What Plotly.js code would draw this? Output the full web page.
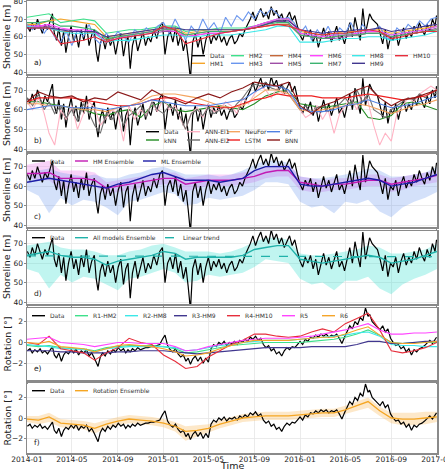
<!DOCTYPE html>
<html>
<head>
<meta charset="utf-8">
<script src="https://cdn.plot.ly/plotly-3.0.1.min.js"></script>
<style>
html,body{margin:0;padding:0;background:#fff;}
#chart{width:445px;height:471px;}
</style>
</head>
<body>
<div id="chart"></div>
<script>
// ---- observed record: shoreline position [m] and beach rotation [deg] ----
const dataDates = [
 '2014-01-02','2014-01-09','2014-01-15','2014-01-22','2014-01-29',
 '2014-02-05','2014-02-11','2014-02-18','2014-02-25',
 '2014-03-04','2014-03-10','2014-03-15','2014-03-21','2014-03-27',
 '2014-04-03','2014-04-09','2014-04-15','2014-04-22','2014-04-29',
 '2014-05-06','2014-05-12','2014-05-19','2014-05-26',
 '2014-06-02','2014-06-09','2014-06-16','2014-06-23','2014-06-30',
 '2014-07-05','2014-07-10','2014-07-16','2014-07-22','2014-07-29',
 '2014-08-05','2014-08-12','2014-08-19','2014-08-26',
 '2014-09-02','2014-09-09','2014-09-16','2014-09-22','2014-09-28',
 '2014-10-04','2014-10-10','2014-10-17','2014-10-24','2014-10-31',
 '2014-11-07','2014-11-14','2014-11-21','2014-11-28',
 '2014-12-06','2014-12-14','2014-12-22','2014-12-29',
 '2015-01-05','2015-01-12','2015-01-19','2015-01-26',
 '2015-02-02','2015-02-09','2015-02-16','2015-02-23',
 '2015-03-02','2015-03-08','2015-03-14','2015-03-20','2015-03-27',
 '2015-04-03','2015-04-10','2015-04-17','2015-04-24',
 '2015-05-01','2015-05-08','2015-05-15','2015-05-22','2015-05-29',
 '2015-06-05','2015-06-12','2015-06-19','2015-06-26',
 '2015-07-03','2015-07-10','2015-07-17','2015-07-24','2015-07-31',
 '2015-08-07','2015-08-14','2015-08-21','2015-08-28',
 '2015-09-04','2015-09-11','2015-09-18','2015-09-25',
 '2015-10-02','2015-10-09','2015-10-16','2015-10-23','2015-10-30',
 '2015-11-06','2015-11-13','2015-11-20','2015-11-27',
 '2015-12-04','2015-12-11','2015-12-18','2015-12-25',
 '2016-01-01','2016-01-08','2016-01-15','2016-01-22','2016-01-29',
 '2016-02-05','2016-02-12','2016-02-19','2016-02-26',
 '2016-03-04','2016-03-11','2016-03-18','2016-03-25',
 '2016-04-01','2016-04-08','2016-04-15','2016-04-22','2016-04-29',
 '2016-05-06','2016-05-13','2016-05-20','2016-05-27',
 '2016-06-03','2016-06-10','2016-06-17','2016-06-24',
 '2016-07-01','2016-07-05','2016-07-12','2016-07-26',
 '2016-08-02','2016-08-09','2016-08-16','2016-08-23','2016-08-30',
 '2016-09-06','2016-09-13','2016-09-20','2016-09-27',
 '2016-10-04','2016-10-11','2016-10-18','2016-10-25',
 '2016-11-01','2016-11-08','2016-11-15','2016-11-22','2016-11-29',
 '2016-12-06','2016-12-13','2016-12-20','2016-12-27','2016-12-31'
];
const shorelineData = [
 66,63,68,64,70, 65,62,67,64, 69,73,62,58,65, 55,63,51,60,66, 57,62,54,64,
 58,67,55,61,64, 52,46,56,60,53, 61,55,59,50, 58,62,49,57,60, 42,55,61,52,58,
 63,55,60,57, 64,59,66,68,
 50,60,63,57, 65,55,61,52, 58,48,36,57,62, 54,60,50,58, 63,56,61,58,62,
 57,60,55,59, 61,56,58,62,60, 64,67,70,74, 69,73,76,71, 74,70,77,72,75,
 70,73,68,71, 74,69,72,66,
 61,58,63,60,64, 57,62,54,60, 65,59,63,57, 62,66,58,61,56, 63,68,60,71,
 64,58,76,62, 69,73,70,67, 62,56,64,53,60, 58,63,55,61, 65,59,63,60,
 66,62,68,64,61, 67,63,70,66,72
];
const rotationData = [
 -0.8,-0.6,-1.0,-0.7,-0.9, -0.6,-1.0,-0.8,-1.1, -0.7,-0.4,-1.2,-1.5,-1.0,
 -1.8,-1.2,-0.9,-1.1,-0.7, -1.0,-0.6,-1.2,-0.8, -1.0,-0.7,-1.3,-1.0,-1.5,
 -1.9,-2.3,-1.4,-1.0,-1.3, -0.8,-1.1,-0.7,-0.9, -0.5,-0.8,-0.6,-1.0,-0.7,
 -0.9,-0.6,-0.8,-0.5,-0.7, -0.6,-0.5,-0.5,-0.4, -0.4,-0.3,-0.2,0.3,
 0.7,-0.3,-0.7,-0.9, -0.6,-1.1,-1.4,-1.2, -1.8,-1.5,-2.1,-1.6,-1.3,
 -1.8,-1.4,-2.0,-1.5, -1.9,-0.6,-0.2,-0.4,0.0, -0.2,0.1,-0.3,0.0,
 -0.1,0.1,-0.2,0.2,0.0, 0.3,0.1,0.5,0.3, 0.6,0.2,0.4,-0.2,
 -0.5,-0.3,-0.8,-0.6,-1.1, -0.9,-1.3,-0.8,-0.5, -0.7,-0.4,-0.5,-0.2,
 0.1,-0.2,0.3,0.1,0.5, 0.4,0.7,0.5,0.8, 0.6,0.8,0.5,0.7, 0.6,0.8,0.4,-0.1,0.5,
 1.0,1.6,1.3,2.0, 1.7,2.4,2.1,3.3, 2.5,2.7,2.0,1.5, 1.2,1.6,1.0,1.3,0.4,
 0.0,-0.3,-0.2,-0.6, -0.4,-0.9,-0.6,-1.2, -0.7,-0.9,-0.6,-0.5,-0.3,
 0.0,0.2,-0.1,0.3,0.5
];

// ---- model output sampling dates ----
const monthDates = [
 '2014-01-01','2014-02-01','2014-03-01','2014-04-01','2014-05-01','2014-06-01',
 '2014-07-01','2014-08-01','2014-09-01','2014-10-01','2014-11-01','2014-12-01',
 '2015-01-01','2015-02-01','2015-03-01','2015-04-01','2015-05-01','2015-06-01',
 '2015-07-01','2015-08-01','2015-09-01','2015-10-01','2015-11-01','2015-12-01',
 '2016-01-01','2016-02-01','2016-03-01','2016-04-01','2016-05-01','2016-06-01',
 '2016-07-01','2016-08-01','2016-09-01','2016-10-01','2016-11-01','2016-12-01',
 '2017-01-01'
];
const halfDates = [
 '2014-01-01','2014-01-16','2014-02-01','2014-02-16','2014-03-01','2014-03-16',
 '2014-04-01','2014-04-16','2014-05-01','2014-05-16','2014-06-01','2014-06-16',
 '2014-07-01','2014-07-16','2014-08-01','2014-08-16','2014-09-01','2014-09-16',
 '2014-10-01','2014-10-16','2014-11-01','2014-11-16','2014-12-01','2014-12-16',
 '2015-01-01','2015-01-16','2015-02-01','2015-02-16','2015-03-01','2015-03-16',
 '2015-04-01','2015-04-16','2015-05-01','2015-05-16','2015-06-01','2015-06-16',
 '2015-07-01','2015-07-16','2015-08-01','2015-08-16','2015-09-01','2015-09-16',
 '2015-10-01','2015-10-16','2015-11-01','2015-11-16','2015-12-01','2015-12-16',
 '2016-01-01','2016-01-16','2016-02-01','2016-02-16','2016-03-01','2016-03-16',
 '2016-04-01','2016-04-16','2016-05-01','2016-05-16','2016-06-01','2016-06-16',
 '2016-07-01','2016-07-16','2016-08-01','2016-08-16','2016-09-01','2016-09-16',
 '2016-10-01','2016-10-16','2016-11-01','2016-11-16','2016-12-01','2016-12-16',
 '2017-01-01'
];

// ---- hybrid (HM) shoreline models [m] ----
const hm1  = [67,67,69,70,69,68,67,60,61,62,63,64, 65,65,62,63,64,64,64,64,65,67,69,70, 63,62,61,62,63,63,64,64,62,63,64,65, 66];
const hm2  = [71,72,73,68,69,70,69,62,63,64,64,65, 66,66,63,64,64,65,65,65,66,68,70,70, 62,61,60,61,62,62,63,63,61,62,63,64, 66];
const hm3  = [67,64,68,62,66,60,57,63,55,64,60,67,59,56,62,58,63,60,57,64,61,65,62,66,
              68,62,70,64,58,66,62,70,64,68,62,71,66,72,69,74,70,75,72,76,73,70,71,68,
              62,66,58,64,60,66,59,65,62,68,61,67,63,64,66,60,58,65,62,67,64,69,66,70, 71];
const hm4  = [66,65,65,63,63,63,62,58,60,61,62,63, 64,64,61,62,63,63,63,64,65,66,67,67, 61,60,59,60,61,61,62,62,60,61,62,63, 64];
const hm5  = [66,66,66,64,64,63,63,57,59,60,61,62, 63,63,60,61,62,62,63,64,66,68,69,68, 61,60,59,59,60,61,62,62,60,61,62,63, 65];
const hm6  = [66,66,67,65,64,64,63,57,59,61,62,63, 64,63,60,61,62,62,63,64,66,68,70,70, 62,61,60,61,61,62,63,63,61,62,63,64, 66];
const hm7  = [68,68,69,66,66,65,64,59,60,61,62,63, 64,64,61,62,63,63,63,64,65,67,68,68, 61,60,59,60,61,61,62,62,60,61,62,63, 64];
const hm8  = [66,65,65,63,62,62,62,57,58,58,59,60, 61,61,60,60,61,61,61,62,63,64,66,66, 57,57,57,58,59,59,60,60,58,59,60,61, 63];
const hm9  = [65,65,65,64,63,63,63,60,61,62,63,64, 65,65,64,64,64,64,64,64,65,67,69,69, 64,63,62,63,63,64,64,65,63,64,65,66, 67];
const hm10 = [65,65,65,56,57,58,60,57,59,60,61,62, 66,64,56,58,60,62,63,64,65,66,67,66, 64,62,61,62,62,63,64,63,59,60,62,63, 63];

// ---- machine-learning (ML) shoreline models [m] ----
const knn    = [64,64,63,62,61,60,58,57,59,60,56,62, 64,60,59,60,61,62,61,60,63,67,69,70, 63,62,61,62,63,64,56,55,57,63,64,62, 60];
const annEl1 = [64,60,66,58,48,42,60,55,62,50,58,64,61,52,56,60,58,44,62,55,60,57,64,59,
                66,60,62,55,50,58,61,56,63,59,60,64,62,58,66,63,68,72,70,66,71,68,70,65,
                60,56,58,62,55,60,48,58,62,66,60,68,64,52,42,48,44,58,62,66,64,68,70,72, 70];
const annEl2 = [66,62,68,60,64,58,62,56,60,54,63,58,52,48,58,55,60,52,57,59,62,56,64,60,
                58,62,60,56,50,58,60,57,61,58,60,62,59,63,66,70,73,72,74,71,70,72,68,64,
                60,62,58,61,62,59,61,63,66,62,70,64,68,60,58,56,60,62,64,66,65,68,66,69, 68];
const neuFor = [63,63,62,62,61,60,60,59,61,62,64,67, 68,68,67,66,64,62,61,62,66,70,70,68, 60,59,60,61,62,63,62,60,58,60,62,63, 65];
const lstm   = [64,66,66,66,66,65,64,63,62,62,63,65, 66,66,64,63,62,61,61,63,65,66,68,67, 67,67,66,66,66,67,68,67,66,65,66,67, 70];
const rf     = [60,61,62,62,61,61,61,60,61,62,63,65, 64,63,62,62,62,63,64,65,69,72,72,70, 61,59,59,60,62,63,65,63,61,62,63,65, 67];
const bnn    = [64,69,67,66,67,64,66,65,69,67,65,70, 67,65,63,66,68,66,69,71,74,73,72,74, 62,58,62,64,67,70,72,66,62,65,66,68, 70];

// ---- ensembles [m] ----
const hmEns = [66.5,66.5,67,64,64,64,63,59,60,61,62,63, 64,64,61,62,63,63,63,64,65,67,68,68, 62,61,60,61,61,62,63,63,61,62,63,64, 65.5];
const hmHi  = [71,72,73,68,68,68,67,62,63,64,65,66, 67,67,64,65,66,66,66,67,68,70,71,71, 65,64,63,64,64,65,66,66,64,65,66,67, 68];
const hmLo  = [64,63,63,58,59,59,60,56,57,58,59,60, 61,61,57,59,60,60,60,61,62,64,65,65, 58,57,57,58,58,59,60,60,57,58,60,61, 62];
const mlEns = [62,63,64,63,62,61,60,59,61,62,64,66, 67,65,63,63,63,62,63,64,68,70,70,70, 61,60,60,61,62,63,64,63,60,61,62,64, 66];
const mlHi  = [65,68,69,67,66,65,66,64,64,66,67,69, 70,68,66,66,66,65,66,68,71,73,73,72, 65,64,64,65,66,67,69,68,65,65,66,67, 70];
const mlLo  = [58,55,46,54,50,53,52,49,45,52,53,55, 57,56,50,51,54,53,54,55,58,62,62,61, 52,49,50,46,52,51,53,47,44,49,52,54, 57];
const allEns = [64,65,66,64,63,63,62,59,61,62,63,64, 66,65,62,63,63,63,63,64,67,68,69,69, 62,61,60,61,62,63,64,63,60,61,62,64, 66];
const allHi  = [69,70,71,68,67,67,66,64,64,66,67,69, 70,68,66,66,66,65,66,68,71,73,73,72, 65,64,64,65,66,67,69,68,65,65,66,67, 70];
const allLo  = [57,55,47,54,50,53,52,49,46,52,53,55, 57,55,50,51,54,53,54,55,58,62,61,60, 52,49,50,46,51,51,53,47,44,49,52,54, 57];
const trendDates = ['2014-01-01','2017-01-01'];
const trendVals  = [63.7, 63.3];

// ---- rotation models [deg] ----
const r1 = [-0.3,-0.4,-0.3,-0.5,-0.6,-0.6,-0.8,-0.5,-0.4,-0.3,-0.3,-0.3, -0.4,-0.6,-1.0,-0.9,-0.7,-0.5,-0.3,-0.2,-0.1,0.0,0.0,0.0, 0.0,0.1,0.2,0.3,0.5,0.8,1.2,0.7,0.0,-0.1,0.0,0.0, 0.0];
const r2 = [-0.2,-0.3,-0.4,-0.6,-0.6,-0.7,-0.9,-0.6,-0.5,-0.4,-0.4,-0.4, -0.4,-0.5,-0.8,-0.7,-0.5,-0.3,-0.2,0.0,0.1,0.2,0.2,0.2, 0.3,0.4,0.5,0.6,0.7,0.9,1.0,0.6,-0.2,-0.3,-0.3,-0.4, -0.4];
const r3 = [-0.8,-0.8,-0.8,-0.9,-0.9,-1.0,-1.0,-1.0,-0.9,-0.9,-0.8,-0.8, -0.8,-0.9,-1.0,-1.1,-1.0,-0.9,-0.8,-0.7,-0.6,-0.5,-0.5,-0.5, -0.5,-0.4,-0.4,-0.4,-0.4,-0.2,0.1,0.1,-0.1,-0.1,0.0,0.1, 0.1];
const r4 = [0.0,-0.2,0.6,-0.6,-0.8,-1.0,-1.7,-1.0,-0.5,0.4,0.0,-0.2, -1.2,-1.8,-2.5,-2.3,-1.4,-0.8,-0.2,0.2,0.8,0.8,0.6,0.5, 0.6,1.0,1.3,1.0,1.8,2.3,2.8,1.2,-0.8,-1.0,-0.8,-0.5, 0.0];
const r5 = [0.3,0.4,0.5,0.0,-0.1,-0.2,-0.4,-0.2,0.0,0.0,-0.1,-0.1, -0.1,-0.4,-0.8,-0.7,-0.4,-0.2,0.0,0.2,0.3,0.4,0.4,0.4, 0.5,0.6,0.8,1.0,1.2,1.5,1.8,1.2,0.8,0.8,0.9,0.9, 1.0];
const r6 = [0.0,-0.1,0.1,-0.4,-0.5,-0.6,-0.9,-0.6,-0.3,-0.2,-0.3,-0.4, -0.6,-0.9,-1.3,-1.2,-1.0,-0.6,-0.3,0.0,0.2,0.2,0.2,0.2, 0.3,0.4,0.5,0.5,0.8,1.2,1.5,0.7,0.0,-0.1,-0.1,0.0, 0.1];
const rotEns = [-0.1,-0.2,0.1,-0.5,-0.6,-0.7,-1.0,-0.6,-0.3,-0.1,-0.2,-0.3, -0.5,-0.8,-1.3,-1.2,-1.0,-0.6,-0.3,0.0,0.1,0.2,0.2,0.2, 0.3,0.4,0.5,0.5,0.8,1.2,1.6,0.7,0.0,-0.1,-0.1,0.0, 0.1];
const rotHi  = [0.2,0.2,0.5,-0.1,-0.2,-0.3,-0.5,-0.2,0.1,0.3,0.2,0.1, -0.1,-0.4,-0.8,-0.7,-0.6,-0.2,0.1,0.4,0.5,0.6,0.6,0.6, 0.7,0.8,0.9,0.9,1.2,1.6,2.0,1.1,0.5,0.5,0.5,0.6, 0.6];
const rotLo  = [-0.4,-0.6,-0.4,-0.9,-1.0,-1.1,-1.5,-1.0,-0.7,-0.5,-0.6,-0.7, -0.9,-1.3,-2.2,-1.8,-1.4,-1.0,-0.7,-0.4,-0.3,-0.2,-0.2,-0.2, -0.1,0.0,0.1,0.1,0.4,0.7,1.0,0.2,-0.5,-0.7,-0.7,-0.6, -0.4];

// ---- page geometry (px) ----
const W = 445, H = 471, ML = 27, MR = 8, MT = 1, MB = 18;
const plotW = W - ML - MR, plotH = H - MT - MB;
const fx = px => (px - ML) / plotW;
const fy = py => (H - MB - py) / plotH;
// panel top / bottom edges
const panels = [[1,74],[78,151],[154,227],[231,304],[308,380],[383,453]];
const yRanges = [[39,80.2],[39,76.1],[39,76.5],[39,76.5],[-3.6,3.3],[-3.4,3.4]];
const yTicks = [[40,50,60,70,80],[40,50,60,70],[40,50,60,70],[40,50,60,70],[-2,0,2],[-2,0,2]];
const yTitles = ['Shoreline [m]','Shoreline [m]','Shoreline [m]','Shoreline [m]','Rotation [°]','Rotation [°]'];
const tags = ['a)','b)','c)','d)','e)','f)'];

const C = {
  data:'#000000', hm1:'#f5a52a', hm2:'#3ee08b', hm3:'#6a96ee', hm4:'#c4683a', hm5:'#9e4ea6',
  hm6:'#ff45ff', hm7:'#3cb371', hm8:'#3ce8e8', hm9:'#41378f', hm10:'#e62e3c',
  knn:'#228b22', ann1:'#ffb3c4', ann2:'#6e6e6e', neu:'#f4a460', lstm:'#ee2020', rf:'#4f80e2', bnn:'#8b1a1a',
  hmE:'#c21ab4', mlE:'#1c1ca6', allE:'#20b2aa', rotE:'#f5a623'
};

const traces = [];
function ax(i){ return i === 0 ? '' : String(i+1); }
function line(i, x, y, color, width, dash){
  traces.push({type:'scatter', mode:'lines', x, y, xaxis:'x'+ax(i), yaxis:'y'+ax(i),
    line:{color, width: width || 1.1, dash: dash || 'solid'}, hoverinfo:'skip', showlegend:false});
}
function band(i, x, lo, hi, fill){
  traces.push({type:'scatter', mode:'lines', x: x.concat(x.slice().reverse()),
    y: hi.concat(lo.slice().reverse()), fill:'toself', fillcolor: fill,
    line:{width:0}, xaxis:'x'+ax(i), yaxis:'y'+ax(i), hoverinfo:'skip', showlegend:false});
}

// a) hybrid models
line(0, dataDates, shorelineData, C.data, 1.2);
line(0, monthDates, hm1, C.hm1);
line(0, monthDates, hm2, C.hm2);
line(0, halfDates, hm3, C.hm3);
line(0, monthDates, hm4, C.hm4);
line(0, monthDates, hm5, C.hm5);
line(0, monthDates, hm6, C.hm6);
line(0, monthDates, hm7, C.hm7);
line(0, monthDates, hm8, C.hm8);
line(0, monthDates, hm9, C.hm9);
line(0, monthDates, hm10, C.hm10);
// b) machine-learning models
line(1, dataDates, shorelineData, C.data, 1.2);
line(1, monthDates, knn, C.knn);
line(1, halfDates, annEl1, C.ann1);
line(1, halfDates, annEl2, C.ann2);
line(1, monthDates, neuFor, C.neu);
line(1, monthDates, lstm, C.lstm);
line(1, monthDates, rf, C.rf);
line(1, monthDates, bnn, C.bnn);
// c) HM / ML ensembles
band(2, monthDates, hmLo, hmHi, 'rgba(238,130,238,0.35)');
band(2, monthDates, mlLo, mlHi, 'rgba(100,149,237,0.28)');
line(2, dataDates, shorelineData, C.data, 1.2);
line(2, monthDates, hmEns, C.hmE, 1.4);
line(2, monthDates, mlEns, C.mlE, 1.4);
// d) all-model ensemble
band(3, monthDates, allLo, allHi, 'rgba(64,224,208,0.33)');
line(3, dataDates, shorelineData, C.data, 1.2);
line(3, monthDates, allEns, C.allE, 1.4);
line(3, trendDates, trendVals, C.allE, 1.2, 'dash');
// e) rotation models
line(4, dataDates, rotationData, C.data, 1.2);
line(4, monthDates, r1, C.hm2);
line(4, monthDates, r2, C.hm8);
line(4, monthDates, r3, C.hm9);
line(4, monthDates, r4, C.hm10);
line(4, monthDates, r5, C.hm6);
line(4, monthDates, r6, C.hm1);
// f) rotation ensemble
band(5, monthDates, rotLo, rotHi, 'rgba(250,190,100,0.35)');
line(5, dataDates, rotationData, C.data, 1.2);
line(5, monthDates, rotEns, C.rotE, 1.3);

// ---- legends drawn as short line samples + labels ----
const legends = [
  {rows:[55.7,63.3], cols:[192,231,270,310,352,395], items:[
    ['Data',C.data],['HM1',C.hm1],['HM2',C.hm2],['HM3',C.hm3],['HM4',C.hm4],['HM5',C.hm5],
    ['HM6',C.hm6],['HM7',C.hm7],['HM8',C.hm8],['HM9',C.hm9],['HM10',C.hm10]]},
  {rows:[131.7,140], cols:[146,187,227,267], items:[
    ['Data',C.data],['kNN',C.knn],['ANN-El1',C.ann1],['ANN-El2',C.ann2],
    ['NeuFor',C.neu],['LSTM',C.lstm],['RF',C.rf],['BNN',C.bnn]]},
  {rows:[161], cols:[32,75,143], items:[
    ['Data',C.data],['HM Ensemble',C.hmE],['ML Ensemble',C.mlE]]},
  {rows:[237.7], cols:[32,75,165], items:[
    ['Data',C.data],['All models Ensemble',C.allE],['Linear trend',C.allE,'dash']]},
  {rows:[315.7], cols:[32,75,125,174,227,282,322], items:[
    ['Data',C.data],['R1-HM2',C.hm2],['R2-HM8',C.hm8],['R3-HM9',C.hm9],
    ['R4-HM10',C.hm10],['R5',C.hm6],['R6',C.hm1]]},
  {rows:[390.7], cols:[32,75], items:[
    ['Data',C.data],['Rotation Ensemble',C.rotE]]}
];
const shapes = [], annotations = [];
legends.forEach(lg => {
  lg.items.forEach((it, k) => {
    const col = Math.floor(k / lg.rows.length), row = k % lg.rows.length;
    const x0 = lg.cols[col], yy = lg.rows[row];
    shapes.push({type:'line', xref:'paper', yref:'paper', x0:fx(x0), x1:fx(x0+13), y0:fy(yy), y1:fy(yy),
      line:{color:it[1], width:1.4, dash: it[2] || 'solid'}});
    annotations.push({xref:'paper', yref:'paper', x:fx(x0+16), y:fy(yy), xanchor:'left', yanchor:'middle',
      text:it[0], showarrow:false, font:{size:6, color:'#333'}});
  });
});

const layout = {
  width: W, height: H, margin:{l:ML, r:MR, t:MT, b:MB},
  paper_bgcolor:'#fff', plot_bgcolor:'#fff', showlegend:false,
  font:{family:'DejaVu Sans', size:8, color:'#222'},
  shapes, annotations
};
panels.forEach((p, i) => {
  const s = ax(i);
  layout['xaxis'+s] = {
    type:'date', domain:[0,1], anchor:'y'+s, range:['2014-01-01','2017-01-01 06:00'],
    tick0:'2014-01-01', dtick:'M4', tickformat:'%Y-%m', showticklabels: i === 5,
    tickfont:{size:7.5, color:'#222'}, ticks:'outside', ticklen:2, tickcolor:'#8a8a8a',
    ticklabelstandoff:-4, ticklabeloverflow:'allow',
    showgrid:true, gridcolor:'#e6e6e6', gridwidth:0.8,
    showline:true, mirror:true, linecolor:'#8a8a8a', linewidth:1.5, zeroline:false
  };
  layout['yaxis'+s] = {
    domain:[fy(p[1]), fy(p[0])], anchor:'x'+s, range:yRanges[i], tickvals:yTicks[i],
    tickfont:{size:7.5, color:'#222'}, ticks:'outside', ticklen:2, tickcolor:'#8a8a8a',
    ticklabelstandoff:-1, ticklabeloverflow:'allow',
    showgrid:true, gridcolor:'#e6e6e6', gridwidth:0.8,
    showline:true, mirror:true, linecolor:'#8a8a8a', linewidth:1.5, zeroline:false
  };
  annotations.push({xref:'paper', yref:'paper', x:fx(6.5), y:fy((p[0]+p[1])/2), textangle:-90,
    text:yTitles[i], showarrow:false, xanchor:'center', yanchor:'middle', font:{size:9.5, color:'#222'}});
  annotations.push({xref:'paper', yref:'paper', x:fx(32), y:fy(p[1]-11), xanchor:'left', yanchor:'middle',
    text:tags[i], showarrow:false, font:{size:7.5, color:'#222'}});
});
annotations.push({xref:'paper', yref:'paper', x:fx(232), y:fy(465.5), xanchor:'center', yanchor:'middle',
  text:'Time', showarrow:false, font:{size:9.5, color:'#222'}});

Plotly.newPlot('chart', traces, layout, {staticPlot:true, displayModeBar:false});
</script>
</body>
</html>
